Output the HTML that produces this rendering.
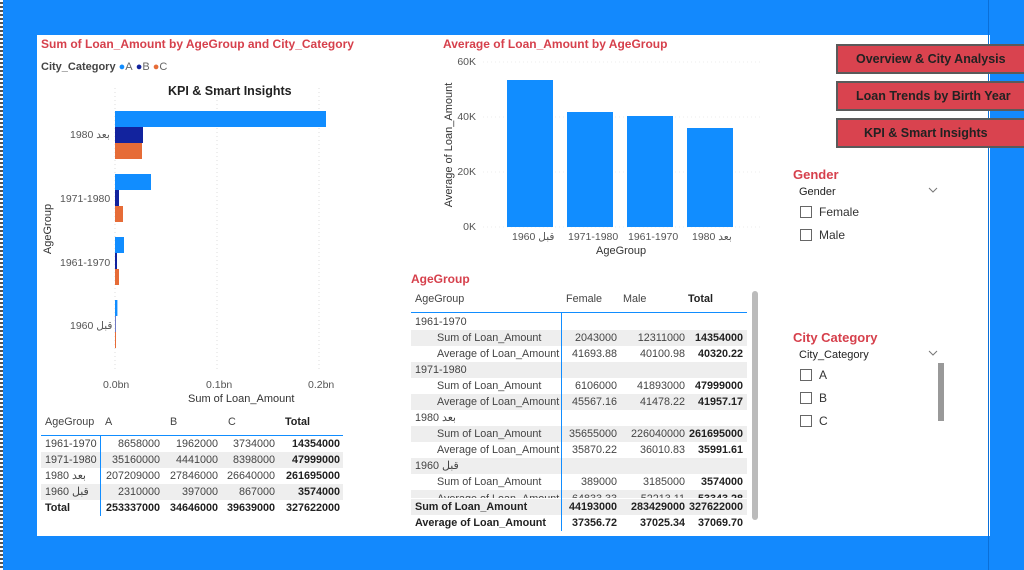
<!DOCTYPE html>
<html><head><meta charset="utf-8"><style>
*{margin:0;padding:0;box-sizing:border-box}
body{width:1024px;height:570px;background:#1389fd;position:relative;overflow:hidden;font-family:"Liberation Sans","Noto Sans CJK SC",sans-serif;color:#333}
.a{position:absolute;white-space:nowrap}
.panel{position:absolute;left:37px;top:35px;width:953px;height:501px;background:#fff}
.dots{position:absolute;left:0;top:0;width:3px;height:570px;background:repeating-linear-gradient(#fff 0 2px,#555 2px 4px)}
.t{color:#d6404c;font-weight:bold;font-size:12px}
.s{font-size:10.5px;color:#555}
.btn{position:absolute;left:836px;width:200px;height:30px;background:#d9434f;border:2px solid #5a5a5a;font-weight:bold;font-size:12.5px;color:#222;line-height:26px;padding-left:18px}
.cb{position:absolute;width:12px;height:12px;border:1px solid #666;background:#fff}
.row{position:absolute;height:16px;font-size:10.8px;color:#444;overflow:hidden}
.band{background:#eeeeee}
.r{position:absolute;text-align:right}
.b{font-weight:bold;color:#222}
.yt{position:absolute;width:30px;text-align:right;font-size:10.5px;color:#555}
</style></head><body>
<div class="dots"></div>
<div class="panel"></div>
<div class="a" style="left:988px;top:0;width:1px;height:570px;background:#0a6fd8"></div>

<!-- Left chart -->
<div class="a t" style="left:41px;top:37px">Sum of Loan_Amount by AgeGroup and City_Category</div>
<div class="a" style="left:41px;top:61px;font-size:11px;font-weight:bold;color:#444">City_Category <span style="color:#118dff">●</span><span style="font-weight:normal;color:#666">A</span> <span style="color:#12239e">●</span><span style="font-weight:normal;color:#666">B</span> <span style="color:#e66c37">●</span><span style="font-weight:normal;color:#666">C</span></div>
<div class="a" style="left:168px;top:84px;font-size:12.5px;font-weight:bold;color:#222">KPI &amp; Smart Insights</div>
<svg class="a" style="left:0;top:0" width="1024" height="570">
<g stroke="#ddd" stroke-dasharray="1,3"><line x1="115" y1="88" x2="115" y2="372"/><line x1="217" y1="88" x2="217" y2="372"/><line x1="319" y1="88" x2="319" y2="372"/></g>
<rect x="115" y="111" width="211" height="16" fill="#118dff"/><rect x="115" y="127" width="28" height="16" fill="#12239e"/><rect x="115" y="143" width="27" height="16" fill="#e66c37"/>
<rect x="115" y="174" width="36" height="16" fill="#118dff"/><rect x="115" y="190" width="4" height="16" fill="#12239e"/><rect x="115" y="206" width="8" height="16" fill="#e66c37"/>
<rect x="115" y="237" width="9" height="16" fill="#118dff"/><rect x="115" y="253" width="2" height="16" fill="#12239e"/><rect x="115" y="269" width="4" height="16" fill="#e66c37"/>
<rect x="115" y="300" width="2.4" height="16" fill="#118dff"/><rect x="115" y="316" width="0.6" height="16" fill="#12239e"/><rect x="115" y="332" width="1" height="16" fill="#e66c37"/>
<g stroke="#eee" stroke-dasharray="1,3"><line x1="483" y1="62" x2="760" y2="62"/><line x1="483" y1="117" x2="760" y2="117"/><line x1="483" y1="172" x2="760" y2="172"/><line x1="483" y1="227" x2="760" y2="227"/></g>
<rect x="507" y="80" width="46" height="147" fill="#118dff"/><rect x="567" y="112" width="46" height="115" fill="#118dff"/><rect x="627" y="116" width="46" height="111" fill="#118dff"/><rect x="687" y="128" width="46" height="99" fill="#118dff"/>
<polyline points="929,188 933,192 937,188" fill="none" stroke="#777"/>
<polyline points="929,351 933,355 937,351" fill="none" stroke="#777"/>
</svg>
<div class="a s" style="left:70px;top:129px">بعد 1980</div>
<div class="a s" style="left:60px;top:193px">1971-1980</div>
<div class="a s" style="left:60px;top:257px">1961-1970</div>
<div class="a s" style="left:70px;top:320px">قبل 1960</div>
<div class="a s" style="left:103px;top:379px">0.0bn</div>
<div class="a s" style="left:206px;top:379px">0.1bn</div>
<div class="a s" style="left:308px;top:379px">0.2bn</div>
<div class="a" style="left:188px;top:393px;font-size:11px;color:#333">Sum of Loan_Amount</div>
<div class="a" style="left:23px;top:223px;font-size:11px;color:#333;transform:rotate(-90deg)">AgeGroup</div>

<!-- Right chart -->
<div class="a t" style="left:443px;top:37px">Average of Loan_Amount by AgeGroup</div>
<div class="yt" style="left:446px;top:56px">60K</div>
<div class="yt" style="left:446px;top:111px">40K</div>
<div class="yt" style="left:446px;top:166px">20K</div>
<div class="yt" style="left:446px;top:221px">0K</div>
<div class="a s" style="left:512px;top:231px">قبل 1960</div>
<div class="a s" style="left:568px;top:231px">1971-1980</div>
<div class="a s" style="left:628px;top:231px">1961-1970</div>
<div class="a s" style="left:692px;top:231px">بعد 1980</div>
<div class="a" style="left:596px;top:245px;font-size:11px;color:#333">AgeGroup</div>
<div class="a" style="left:449px;top:145px;font-size:11px;color:#333;transform:translate(-50%,-50%) rotate(-90deg)">Average of Loan_Amount</div>

<!-- Buttons -->
<div class="btn" style="top:44px">Overview &amp; City Analysis</div>
<div class="btn" style="top:81px">Loan Trends by Birth Year</div>
<div class="btn" style="top:118px;padding-left:26px">KPI &amp; Smart Insights</div>

<!-- Slicers -->
<div class="a t" style="left:793px;top:167px;font-size:13px">Gender</div>
<div class="a" style="left:799px;top:186px;font-size:11px;color:#222">Gender</div>
<div class="cb" style="left:800px;top:206px"></div><div class="a" style="left:819px;top:205px;font-size:12px;color:#333">Female</div>
<div class="cb" style="left:800px;top:229px"></div><div class="a" style="left:819px;top:228px;font-size:12px;color:#333">Male</div>
<div class="a t" style="left:793px;top:330px;font-size:13px">City Category</div>
<div class="a" style="left:799px;top:349px;font-size:11px;color:#222">City_Category</div>
<div class="cb" style="left:800px;top:369px"></div><div class="a" style="left:819px;top:368px;font-size:12px;color:#333">A</div>
<div class="cb" style="left:800px;top:392px"></div><div class="a" style="left:819px;top:391px;font-size:12px;color:#333">B</div>
<div class="cb" style="left:800px;top:415px"></div><div class="a" style="left:819px;top:414px;font-size:12px;color:#333">C</div>
<div class="a" style="left:938px;top:363px;width:6px;height:58px;background:#999"></div>

<!-- Matrix -->
<div class="a t" style="left:411px;top:272px">AgeGroup</div>
<div class="a" style="left:752px;top:291px;width:6px;height:229px;background:#bbb;border-radius:3px"></div>
<div class="row" style="left:411px;top:291px;width:336px;line-height:16px"><span class="a" style="left:4px">AgeGroup</span><span class="a" style="left:155px">Female</span><span class="a" style="left:212px">Male</span><span class="a b" style="left:277px">Total</span></div>
<div class="a" style="left:411px;top:312px;width:336px;height:1px;background:#118dff"></div>
<div id="mx"></div>
<div class="a" style="left:561px;top:313px;width:1px;height:218px;background:#118dff"></div>

<!-- Bottom table -->
<div class="row" style="left:41px;top:414px;width:302px;line-height:16px"><span class="a" style="left:4px">AgeGroup</span><span class="a" style="left:64px">A</span><span class="a" style="left:129px">B</span><span class="a" style="left:187px">C</span><span class="a b" style="left:244px">Total</span></div>
<div class="a" style="left:41px;top:435px;width:302px;height:1px;background:#118dff"></div>
<div id="bt"></div>
<div class="a" style="left:100px;top:436px;width:1px;height:80px;background:#118dff"></div>

<script>
function rows(id,left,top,w,data,cols,h){var o='';data.forEach(function(d,i){
var st='left:'+left+'px;top:'+(top+i*h)+'px;width:'+w+'px;line-height:'+h+'px;height:'+h+'px';
o+='<div class="row'+(d.band?' band':'')+(d.bold?' b':'')+'" style="'+st+'"><span class="a" style="left:'+d.ind+'px">'+d.l+'</span>';
(d.v||[]).forEach(function(v,j){o+='<span class="r'+(j==d.v.length-1?' b':'')+'" style="right:'+cols[j]+'px">'+v+'</span>'});
o+='</div>'});document.getElementById(id).innerHTML=o}
var S='Sum of Loan_Amount',A='Average of Loan_Amount';
rows('mx',411,314,336,[
{l:'1961-1970',ind:4},{l:S,ind:26,band:1,v:['2043000','12311000','14354000']},{l:A,ind:26,v:['41693.88','40100.98','40320.22']},
{l:'1971-1980',ind:4,band:1},{l:S,ind:26,v:['6106000','41893000','47999000']},{l:A,ind:26,band:1,v:['45567.16','41478.22','41957.17']},
{l:'بعد 1980',ind:4},{l:S,ind:26,band:1,v:['35655000','226040000','261695000']},{l:A,ind:26,v:['35870.22','36010.83','35991.61']},
{l:'قبل 1960',ind:4,band:1},{l:S,ind:26,v:['389000','3185000','3574000']},
{l:A,ind:26,band:1,v:['64833.33','52213.11','53343.28']},
{l:S,ind:4,bold:1,band:1,v:['44193000','283429000','327622000']},{l:A,ind:4,bold:1,v:['37356.72','37025.34','37069.70']}
],[130,62,4],16);
var m=document.getElementById('mx').children;m[11].style.height='8px';m[11].style.lineHeight='18px';m[12].style.top='499px';m[13].style.top='515px';
rows('bt',41,436,302,[
{l:'1961-1970',ind:4,v:['8658000','1962000','3734000','14354000']},
{l:'1971-1980',ind:4,band:1,v:['35160000','4441000','8398000','47999000']},
{l:'بعد 1980',ind:4,v:['207209000','27846000','26640000','261695000']},
{l:'قبل 1960',ind:4,band:1,v:['2310000','397000','867000','3574000']},
{l:'Total',ind:4,bold:1,v:['253337000','34646000','39639000','327622000']}
],[183,125,68,3],16);
</script>
</body></html>
